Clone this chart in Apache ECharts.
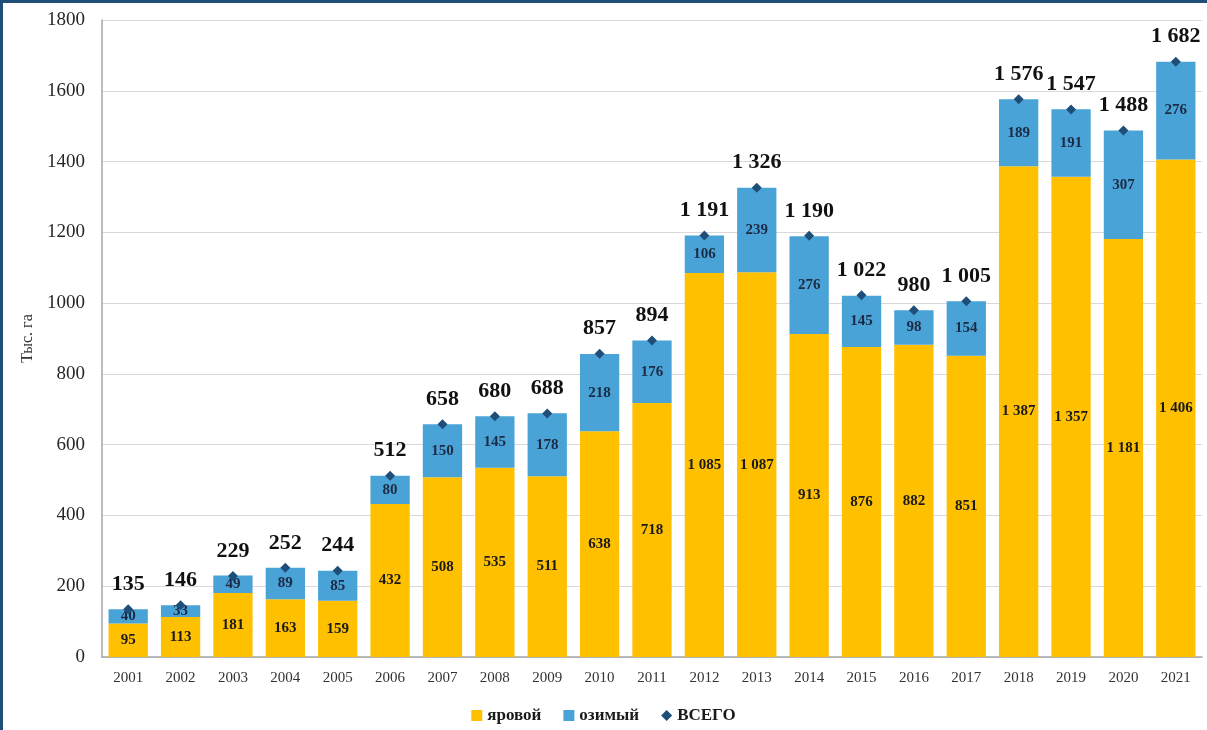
<!DOCTYPE html>
<html><head><meta charset="utf-8">
<script src="https://cdn.jsdelivr.net/npm/echarts@6/dist/echarts.min.js"></script>
<style>
html,body{margin:0;padding:0;background:#fff;}
#frame{position:absolute;left:0;top:0;width:1207px;height:730px;box-sizing:border-box;border-top:3px solid #1f4e79;border-left:3px solid #1f4e79;}
#c{position:absolute;left:0;top:0;width:1207px;height:730px;}
</style></head>
<body>
<div id="c"></div>
<div id="frame"></div>
<script>
const years = ['2001','2002','2003','2004','2005','2006','2007','2008','2009','2010','2011','2012','2013','2014','2015','2016','2017','2018','2019','2020','2021'];
const spring = [95,113,181,163,159,432,508,535,511,638,718,1085,1087,913,876,882,851,1387,1357,1181,1406];
const winter = [40,33,49,89,85,80,150,145,178,218,176,106,239,276,145,98,154,189,191,307,276];
const total = [135,146,229,252,244,512,658,680,688,857,894,1191,1326,1190,1022,980,1005,1576,1547,1488,1682];
const yTicks = [0,200,400,600,800,1000,1200,1400,1600,1800];

const fmt = v => String(v).replace(/\B(?=(\d{3})+(?!\d))/g, ' ');
const serif = '"Liberation Serif", "DejaVu Serif", serif';

const chart = echarts.init(document.getElementById('c'));
chart.setOption({
  animation: false,
  textStyle: { fontFamily: serif },
  grid: { left: 102, right: 5, top: 20, bottom: 73 },
  legend: {
    bottom: 1, left: 'center', itemWidth: 11, itemHeight: 11, itemGap: 22,
    textStyle: { fontFamily: serif, fontSize: 17, fontWeight: 'bold', color: '#1a1a1a' },
    data: [{name:'яровой', icon:'rect'}, {name:'озимый', icon:'rect'}, {name:'ВСЕГО', icon:'diamond'}]
  },
  xAxis: {
    type: 'category', data: years,
    axisLine: { lineStyle: { color: '#a6a6a6', width: 1.5 } },
    axisTick: { show: false },
    axisLabel: { fontFamily: serif, fontSize: 15, color: '#333', margin: 14 }
  },
  yAxis: {
    type: 'value', min: yTicks[0], max: yTicks[yTicks.length-1], interval: 200,
    name: 'Тыс. га', nameLocation: 'middle', nameGap: 60, nameRotate: 90,
    nameTextStyle: { fontFamily: serif, fontSize: 16, color: '#333' },
    axisLine: { show: true, lineStyle: { color: '#a6a6a6', width: 1.5 } },
    axisTick: { show: false },
    axisLabel: { fontFamily: serif, fontSize: 19, color: '#262626', margin: 17, formatter: v => String(v) },
    splitLine: { lineStyle: { color: '#d9d9d9', width: 1 } }
  },
  series: [
    { name: 'яровой', type: 'bar', stack: 's', data: spring, barWidth: '75%',
      itemStyle: { color: '#FFC000' },
      label: { show: true, position: 'inside', fontFamily: serif, fontSize: 15, fontWeight: 'bold', color: '#1a1a1a', formatter: p => fmt(p.value) } },
    { name: 'озимый', type: 'bar', stack: 's', data: winter, barWidth: '75%',
      itemStyle: { color: '#4AA3D6' },
      label: { show: true, position: 'inside', fontFamily: serif, fontSize: 15, fontWeight: 'bold', color: '#1c2b45', formatter: p => fmt(p.value) } },
    { name: 'ВСЕГО', type: 'line', data: total, symbol: 'diamond', symbolSize: 10,
      itemStyle: { color: '#1F4E79' },
      lineStyle: { width: 0, opacity: 0 },
      z: 5,
      label: { show: true, position: 'top', distance: 9, fontFamily: serif, fontSize: 22, fontWeight: 'bold', color: '#111', formatter: p => fmt(p.value) } }
  ]
});
</script>
</body></html>
